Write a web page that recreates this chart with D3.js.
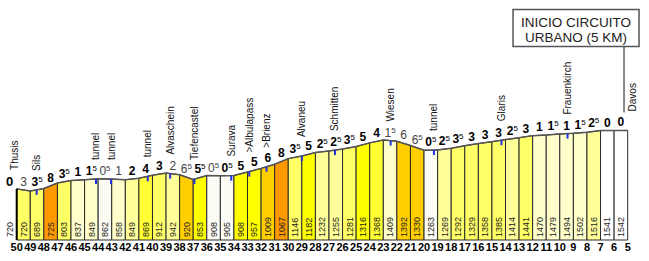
<!DOCTYPE html>
<html>
<head>
<meta charset="utf-8">
<script src="https://cdn.jsdelivr.net/npm/d3@7"></script>
<style>
	body { margin: 0; background: #fff; }
	svg { display: block; }
	text { font-family: "Liberation Sans", Arial, sans-serif; }
</style>
</head>
<body>
<div id="chart"></div>
<script>
'use strict';

// km to the finish, one mark per km
var kmMarks = [50, 49, 48, 47, 46, 45, 44, 43, 42, 41, 40, 39, 38, 37, 36, 35, 34, 33, 32, 31, 30,
	29, 28, 27, 26, 25, 24, 23, 22, 21, 20, 19, 18, 17, 16, 15, 14, 13, 12, 11, 10, 9, 8, 7, 6, 5];

// altitude (m) at each km mark
var elevations = [720, 689, 725, 803, 837, 849, 862, 858, 849, 869, 912, 942, 920, 853, 908, 905,
	908, 957, 1009, 1067, 1146, 1182, 1232, 1255, 1281, 1316, 1368, 1409, 1392, 1330, 1263, 1269,
	1292, 1329, 1358, 1385, 1414, 1441, 1470, 1479, 1494, 1502, 1516, 1541, 1542, 1543];

// gradient (%) of each km, as printed over the column
var gradients = [3, 3.5, 8, 3.5, 1, 1.5, 0.5, 1, 2, 4, 3, 2, 6.5, 5.5, 0.5, 0.5, 5, 5, 6, 8, 3.5, 5,
	2.5, 2.5, 3.5, 5, 4, 1.5, 6, 6.5, 0.5, 2.5, 3.5, 3, 3, 3, 2.5, 3, 1, 1.5, 1, 1.5, 2.5, 0, 0];

// places along the route
var placeNames = ['Thusis', 'Sils', 'tunnel', 'tunnel', 'tunnel', 'Alvaschein', 'Tiefencastel', 'Surava',
	'>Albulapass', '>Brienz', 'Alvaneu', 'Schmitten', 'Wiesen', 'tunnel', 'Glaris', 'Frauenkirch', 'Davos'];
var placeKm = [50.15, 48.53, 44.16, 43.05, 40.35, 38.7, 36.92, 34.2, 32.87, 31.6, 29.0, 26.56, 22.46,
	19.27, 14.3, 9.43, 4.62];
var placeMarked = [false, true, true, true, true, true, true, true, true, true, true, true, true, true,
	true, true, false];

var circuitKm = 5.27;
var circuitText = ['INICIO CIRCUITO', 'URBANO (5 KM)'];

// colour by whole gradient %
var gradientColours = ['#ffffff', '#ffffcc', '#ffff99', '#ffff66', '#ffff33', '#ffff00', '#ffcf00', '#ffb000', '#ff9900'];



var svgWidth = 649;
var svgHeight = 261;

var svg = d3.select('#chart').append('svg')
	.attr('width', svgWidth)
	.attr('height', svgHeight);

// dithered near-white fill for the 0.5% km
var defs = svg.append('defs');
var pat = defs.append('pattern')
	.attr('id', 'dots')
	.attr('width', 2)
	.attr('height', 2)
	.attr('patternUnits', 'userSpaceOnUse');
pat.append('rect').attr('width', 2).attr('height', 2).attr('fill', '#ffffff');
pat.append('rect').attr('width', 1).attr('height', 1).attr('fill', '#f3f3d6');

var x = d3.scaleLinear().domain([50, 5]).range([16.7, 627.7]);
var y = d3.scaleLinear().domain([0, 1600]).range([240, 126.4]);
var base = y(0);

function profileAt(km) {
	var i = Math.max(0, Math.min(kmMarks.length - 2, Math.floor(50 - km)));
	var t = Math.max(0, Math.min(1, (kmMarks[i] - km)));
	return elevations[i] + (elevations[i + 1] - elevations[i]) * t;
}

function fillFor(g) {
	if (g === 0.5) return 'url(#dots)';
	return gradientColours[Math.floor(g)];
}

var cols = d3.range(gradients.length).map(function(i) {
	return {
		k0: kmMarks[i],
		k1: kmMarks[i + 1],
		e0: elevations[i],
		e1: elevations[i + 1],
		g: gradients[i]
	};
});



// Columns
svg.append('g').attr('class', 'columns')
	.selectAll('path')
	.data(cols)
	.join('path')
	.attr('d', function(d) {
		return `M${x(d.k0)},${base}L${x(d.k0)},${y(d.e0)}L${x(d.k1)},${y(d.e1)}L${x(d.k1)},${base}Z`;
	})
	.attr('fill', function(d) { return fillFor(d.g); })
	.attr('stroke', '#2a2a2a')
	.attr('stroke-width', 1);

// Profile line along the tops
var line = d3.line()
	.x(function(d, i) { return x(kmMarks[i]); })
	.y(function(d) { return y(d); });
svg.append('path')
	.attr('d', line(elevations))
	.attr('fill', 'none')
	.attr('stroke', '#555')
	.attr('stroke-width', 1.5);

// left edge
svg.append('line')
	.attr('x1', x(50)).attr('x2', x(50))
	.attr('y1', y(elevations[0])).attr('y2', base)
	.attr('stroke', '#000').attr('stroke-width', 2);



// Altitude labels in the columns
svg.append('g').attr('class', 'alt-labels')
	.selectAll('text')
	.data(cols)
	.join('text')
	.attr('transform', function(d) {
		return `translate(${(x(d.k0) + x(d.k1)) / 2}, ${base - 3}) rotate(-90)`;
	})
	.attr('dy', '0.35em')
	.attr('font-size', 9)
	.attr('fill', '#222')
	.text(function(d) { return d.e0; });

// start altitude and start gradient
svg.append('text')
	.attr('transform', `translate(${x(50) - 7}, ${base - 3}) rotate(-90)`)
	.attr('dy', '0.35em')
	.attr('font-size', 9)
	.attr('fill', '#222')
	.text(elevations[0]);
svg.append('text')
	.attr('x', x(50) - 7)
	.attr('y', y(elevations[0]) - 3)
	.attr('text-anchor', 'middle')
	.attr('font-size', 13)
	.attr('font-weight', 'bold')
	.text('0');



// Gradient labels over the columns
var gl = svg.append('g').attr('class', 'grad-labels')
	.selectAll('text')
	.data(cols)
	.join('text')
	.attr('x', function(d) { return (x(d.k0) + x(d.k1)) / 2; })
	.attr('y', function(d) { return y((d.e0 + d.e1) / 2) - 4; })
	.attr('text-anchor', 'middle')
	.attr('font-size', 12)
	.attr('font-weight', function(d) { return d.e1 >= d.e0 ? 'bold' : 'normal'; })
	.attr('fill', function(d) { return d.e1 >= d.e0 ? '#000' : '#444'; });
gl.append('tspan')
	.text(function(d) { return Math.floor(d.g); });
gl.filter(function(d) { return d.g % 1 !== 0; })
	.append('tspan')
	.attr('dy', -4)
	.attr('font-size', 8)
	.attr('font-weight', 'normal')
	.text('5');



// Place names and blue markers
var places = placeNames.map(function(name, i) {
	return { name: name, km: placeKm[i], marked: placeMarked[i], elev: profileAt(placeKm[i]) };
});

svg.append('g').attr('class', 'markers')
	.selectAll('rect')
	.data(places.filter(function(d) { return d.marked; }))
	.join('rect')
	.attr('x', function(d) { return x(d.km) - 1; })
	.attr('y', function(d) { return y(d.elev); })
	.attr('width', 2)
	.attr('height', 5)
	.attr('fill', '#1f2fe8');

svg.append('g').attr('class', 'places')
	.selectAll('text')
	.data(places)
	.join('text')
	.attr('transform', function(d) {
		return `translate(${x(d.km)}, ${y(d.elev) - 19}) rotate(-90)`;
	})
	.attr('dy', '0.35em')
	.attr('font-size', 10)
	.attr('fill', '#111')
	.text(function(d) { return d.name; });



// km axis
svg.append('g').attr('class', 'km-axis')
	.selectAll('text')
	.data(kmMarks)
	.join('text')
	.attr('x', function(d) { return x(d); })
	.attr('y', base + 11)
	.attr('text-anchor', 'middle')
	.attr('font-size', 11)
	.attr('font-weight', 'bold')
	.text(function(d) { return d; });



// Urban circuit callout
var cx = x(circuitKm);
var boxW = 126, boxH = 37;
var boxX = cx - boxW + 15, boxY = 9.5;
svg.append('line')
	.attr('x1', cx).attr('x2', cx)
	.attr('y1', boxY + boxH).attr('y2', y(profileAt(5)) - 18)
	.attr('stroke', '#888')
	.attr('stroke-width', 2);
svg.append('rect')
	.attr('x', boxX).attr('y', boxY)
	.attr('width', boxW).attr('height', boxH)
	.attr('fill', '#fff')
	.attr('stroke', '#555')
	.attr('stroke-width', 1.5);
svg.append('g')
	.selectAll('text')
	.data(circuitText)
	.join('text')
	.attr('x', boxX + boxW / 2)
	.attr('y', function(d, i) { return boxY + 17 + i * 15; })
	.attr('text-anchor', 'middle')
	.attr('font-family', '"DejaVu Sans", Verdana, sans-serif')
	.attr('font-size', 13.5)
	.attr('fill', '#222')
	.text(function(d) { return d; });
</script>
</body>
</html>
